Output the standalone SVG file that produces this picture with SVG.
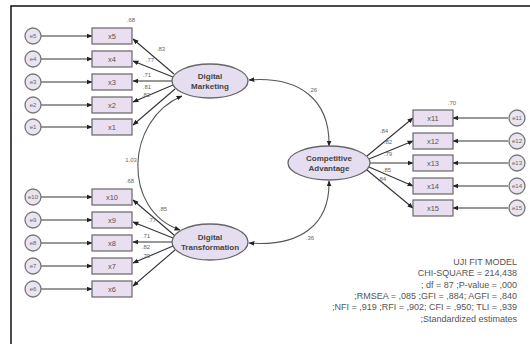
<svg xmlns="http://www.w3.org/2000/svg" width="530" height="344" viewBox="0 0 530 344">
<defs>
<marker id="ah" viewBox="0 0 10 10" refX="9" refY="5" markerWidth="6" markerHeight="6" orient="auto-start-reverse" markerUnits="userSpaceOnUse">
<path d="M0,1 L10,5 L0,9 z" fill="#222"/>
</marker>
<style>
.box{fill:#e9dff1;stroke:#666;stroke-width:1.2}
.err{fill:#e9e4ef;stroke:#777;stroke-width:1.3}
.lat{fill:#e4def0;stroke:#666;stroke-width:1.3}
.t{font-family:"Liberation Sans",Arial,sans-serif;font-size:7.5px;fill:#555;text-anchor:middle}
.lt{font-family:"Liberation Sans",Arial,sans-serif;font-size:8px;font-weight:bold;fill:#444;text-anchor:middle}
.n{font-family:"Liberation Sans",Arial,sans-serif;font-size:6px;fill:#666;text-anchor:middle}
.fit{font-family:"Liberation Sans",Arial,sans-serif;font-size:9px;fill:#555;text-anchor:end}
.ln{stroke:#333;stroke-width:1.1;fill:none;marker-end:url(#ah)}
.cv{stroke:#555;stroke-width:1.1;fill:none;marker-end:url(#ah);marker-start:url(#ah)}
</style>
</defs>
<rect width="530" height="344" fill="#fff"/>
<path d="M11,344 V6 H530" fill="none" stroke="#111" stroke-width="1.5"/>

<g id="connectors">
<line class="ln" x1="41" y1="36" x2="92" y2="36"/>
<line class="ln" x1="41" y1="59" x2="92" y2="59"/>
<line class="ln" x1="41" y1="82" x2="92" y2="82"/>
<line class="ln" x1="41" y1="105" x2="92" y2="105"/>
<line class="ln" x1="41" y1="127" x2="92" y2="127"/>
<line class="ln" x1="174" y1="74" x2="133" y2="39"/>
<line class="ln" x1="173" y1="77" x2="133" y2="61"/>
<line class="ln" x1="172" y1="81" x2="133" y2="81"/>
<line class="ln" x1="173" y1="85" x2="133" y2="102"/>
<line class="ln" x1="175" y1="89" x2="133" y2="125"/>
<line class="ln" x1="41" y1="197" x2="92" y2="197"/>
<line class="ln" x1="41" y1="220" x2="92" y2="220"/>
<line class="ln" x1="41" y1="243" x2="92" y2="243"/>
<line class="ln" x1="41" y1="266" x2="92" y2="266"/>
<line class="ln" x1="41" y1="289" x2="92" y2="289"/>
<line class="ln" x1="174" y1="235" x2="133" y2="200"/>
<line class="ln" x1="173" y1="238" x2="133" y2="222"/>
<line class="ln" x1="172" y1="242" x2="133" y2="242"/>
<line class="ln" x1="173" y1="246" x2="133" y2="263"/>
<line class="ln" x1="175" y1="250" x2="133" y2="286"/>
<line class="ln" x1="367" y1="156" x2="413" y2="118"/>
<line class="ln" x1="369" y1="159" x2="413" y2="141"/>
<line class="ln" x1="370" y1="163" x2="413" y2="163"/>
<line class="ln" x1="369" y1="167" x2="413" y2="186"/>
<line class="ln" x1="367" y1="170" x2="413" y2="208"/>
<line class="ln" x1="508" y1="118" x2="453" y2="118"/>
<line class="ln" x1="508" y1="141" x2="453" y2="141"/>
<line class="ln" x1="508" y1="163" x2="453" y2="163"/>
<line class="ln" x1="508" y1="186" x2="453" y2="186"/>
<line class="ln" x1="508" y1="208" x2="453" y2="208"/>
<path class="cv" d="M249,80 C300,76 330,100 329,146"/>
<path class="cv" d="M249,243 C300,247 330,225 329,181"/>
<path class="cv" d="M182,96 C125,120 122,210 180,230"/>
<text class="n" x="313" y="92">.26</text>
<text class="n" x="310" y="240">.36</text>
<text class="n" x="131" y="162">1.03</text>
<text class="n" x="161" y="51">.83</text>
<text class="n" x="150" y="62">.77</text>
<text class="n" x="147" y="77">.71</text>
<text class="n" x="147" y="89">.81</text>
<text class="n" x="146" y="97">.82</text>
<text class="n" x="163" y="211">.85</text>
<text class="n" x="152" y="222">.77</text>
<text class="n" x="146" y="238">.71</text>
<text class="n" x="146" y="249">.82</text>
<text class="n" x="146" y="258">.79</text>
<text class="n" x="384" y="133">.84</text>
<text class="n" x="388" y="144">.82</text>
<text class="n" x="388" y="156">.79</text>
<text class="n" x="387" y="172">.85</text>
<text class="n" x="382" y="181">.84</text>
<text class="n" x="131" y="22">.68</text>
<text class="n" x="130" y="183">.68</text>
<text class="n" x="452" y="105">.70</text>
</g>

<g id="e5"><circle class="err" cx="33" cy="36" r="8"/><text class="n" x="33" y="38">e5</text></g>
<g id="e4"><circle class="err" cx="33" cy="59" r="8"/><text class="n" x="33" y="61">e4</text></g>
<g id="e3"><circle class="err" cx="33" cy="82" r="8"/><text class="n" x="33" y="84">e3</text></g>
<g id="e2"><circle class="err" cx="33" cy="105" r="8"/><text class="n" x="33" y="107">e2</text></g>
<g id="e1"><circle class="err" cx="33" cy="127" r="8"/><text class="n" x="33" y="129">e1</text></g>
<g id="e10"><circle class="err" cx="33" cy="197" r="8"/><text class="n" x="33" y="199">e10</text></g>
<g id="e9"><circle class="err" cx="33" cy="220" r="8"/><text class="n" x="33" y="222">e9</text></g>
<g id="e8"><circle class="err" cx="33" cy="243" r="8"/><text class="n" x="33" y="245">e8</text></g>
<g id="e7"><circle class="err" cx="33" cy="266" r="8"/><text class="n" x="33" y="268">e7</text></g>
<g id="e6"><circle class="err" cx="33" cy="289" r="8"/><text class="n" x="33" y="291">e6</text></g>
<g id="e11"><circle class="err" cx="517" cy="118" r="8"/><text class="n" x="517" y="120">e11</text></g>
<g id="e12"><circle class="err" cx="517" cy="141" r="8"/><text class="n" x="517" y="143">e12</text></g>
<g id="e13"><circle class="err" cx="517" cy="163" r="8"/><text class="n" x="517" y="165">e13</text></g>
<g id="e14"><circle class="err" cx="517" cy="186" r="8"/><text class="n" x="517" y="188">e14</text></g>
<g id="e15"><circle class="err" cx="517" cy="208" r="8"/><text class="n" x="517" y="210">e15</text></g>

<g id="x5"><rect class="box" x="92" y="28" width="40" height="16"/><text class="t" x="112" y="39">x5</text></g>
<g id="x4"><rect class="box" x="92" y="51" width="40" height="16"/><text class="t" x="112" y="62">x4</text></g>
<g id="x3"><rect class="box" x="92" y="74" width="40" height="16"/><text class="t" x="112" y="85">x3</text></g>
<g id="x2"><rect class="box" x="92" y="97" width="40" height="16"/><text class="t" x="112" y="108">x2</text></g>
<g id="x1"><rect class="box" x="92" y="119" width="40" height="16"/><text class="t" x="112" y="130">x1</text></g>
<g id="x10"><rect class="box" x="92" y="189" width="40" height="16"/><text class="t" x="112" y="200">x10</text></g>
<g id="x9"><rect class="box" x="92" y="212" width="40" height="16"/><text class="t" x="112" y="223">x9</text></g>
<g id="x8"><rect class="box" x="92" y="235" width="40" height="16"/><text class="t" x="112" y="246">x8</text></g>
<g id="x7"><rect class="box" x="92" y="258" width="40" height="16"/><text class="t" x="112" y="269">x7</text></g>
<g id="x6"><rect class="box" x="92" y="281" width="40" height="16"/><text class="t" x="112" y="292">x6</text></g>
<g id="x11"><rect class="box" x="413" y="110" width="40" height="16"/><text class="t" x="433" y="121">x11</text></g>
<g id="x12"><rect class="box" x="413" y="133" width="40" height="16"/><text class="t" x="433" y="144">x12</text></g>
<g id="x13"><rect class="box" x="413" y="155" width="40" height="16"/><text class="t" x="433" y="166">x13</text></g>
<g id="x14"><rect class="box" x="413" y="178" width="40" height="16"/><text class="t" x="433" y="189">x14</text></g>
<g id="x15"><rect class="box" x="413" y="200" width="40" height="16"/><text class="t" x="433" y="211">x15</text></g>

<g id="dm"><ellipse class="lat" cx="210" cy="81" rx="38" ry="17"/><text class="lt" x="210" y="79">Digital</text><text class="lt" x="210" y="89">Marketing</text></g>
<g id="dt"><ellipse class="lat" cx="210" cy="242" rx="38" ry="18"/><text class="lt" x="210" y="240">Digital</text><text class="lt" x="210" y="250">Transformation</text></g>
<g id="ca"><ellipse class="lat" cx="329" cy="163" rx="41" ry="17"/><text class="lt" x="329" y="161">Competitive</text><text class="lt" x="329" y="171">Advantage</text></g>

<g id="fit">
<text class="fit" x="517" y="265">UJI FIT MODEL</text>
<text class="fit" x="517" y="276">CHI-SQUARE = 214,438</text>
<text class="fit" x="517" y="288">; df = 87 ;P-value = ,000</text>
<text class="fit" x="517" y="299">;RMSEA = ,085 ;GFI = ,884; AGFI = ,840</text>
<text class="fit" x="517" y="310">;NFI = ,919 ;RFI = ,902; CFI = ,950; TLI = ,939</text>
<text class="fit" x="517" y="322">;Standardized estimates</text>
</g>
</svg>
